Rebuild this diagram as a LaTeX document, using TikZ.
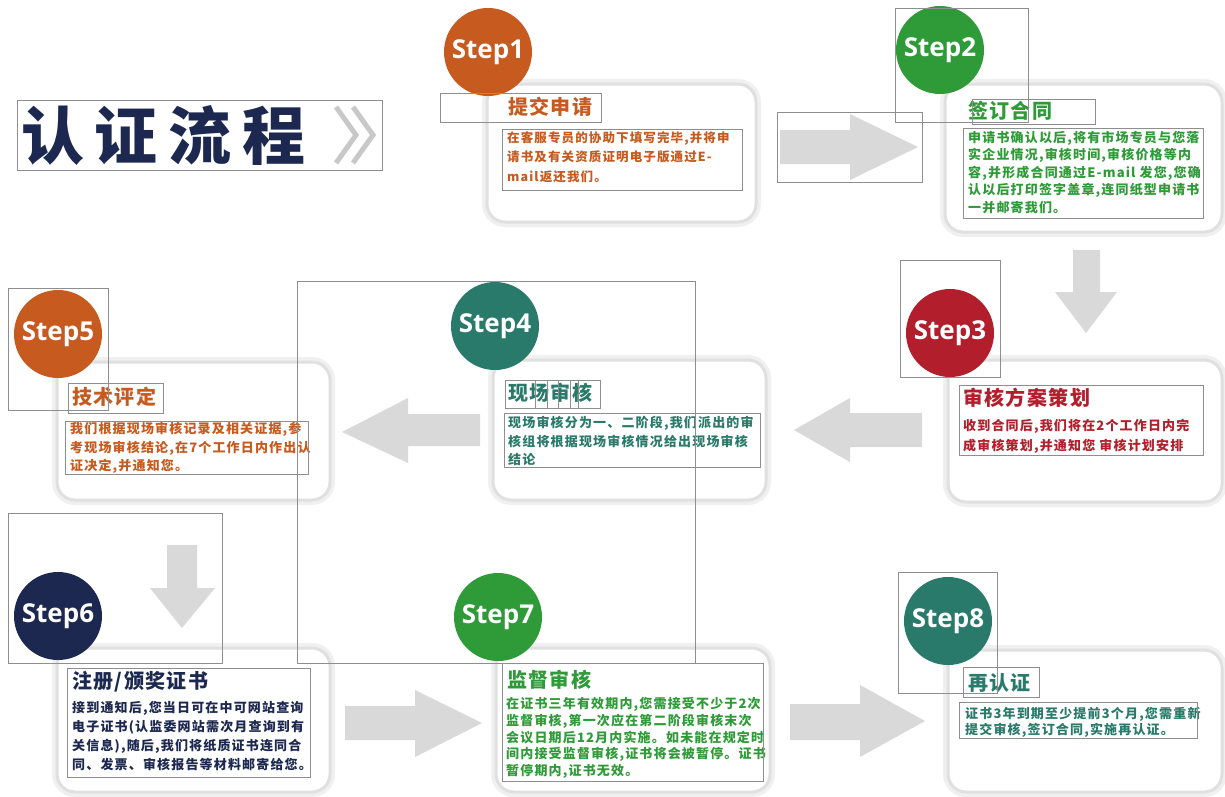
\documentclass[tikz,border=0pt]{standalone}
\usepackage{fontspec}
\setmainfont{Noto Sans CJK SC}
\newfontfamily\bodyf[LetterSpace=9]{Noto Sans CJK SC}
\newfontfamily\titlef[LetterSpace=7]{Noto Sans CJK SC}
\newfontfamily\bigf[LetterSpace=17]{Noto Sans CJK SC}
\newfontfamily\stepfont{Open Sans}
\definecolor{corange}{HTML}{C75A1E}
\definecolor{cgreen}{HTML}{2F9B38}
\definecolor{cred}{HTML}{B21E2C}
\definecolor{cteal}{HTML}{2A7A6B}
\definecolor{cnavy}{HTML}{1C2850}
\definecolor{arrowgray}{HTML}{D9D9D9}
\definecolor{annot}{HTML}{8E8E8E}
\definecolor{chev}{HTML}{C8C8C8}
\tikzset{
  card/.style={fill=white, draw=black!12, line width=3pt, rounded corners=18pt,
    preaction={draw=black!6, line width=10pt}, inner sep=0pt},
  stepcircle/.style={circle, minimum size=88pt, inner sep=0pt, text=white,
    font=\stepfont\bfseries\fontsize{26}{30}\selectfont},
  ttl/.style={anchor=west, inner sep=0pt, font=\titlef\bfseries\fontsize{20}{24}\selectfont},
  body/.style={anchor=north west, inner sep=0pt, align=left},
  annotbox/.style={draw=annot, line width=0.8pt},
  blockarrow/.style={fill=arrowgray},
}
\newcommand{\bodysize}[2]{\bodyf\bfseries\fontsize{#1}{#2}\selectfont}
\begin{document}
\begin{tikzpicture}[x=1pt,y=-1pt]
\useasboundingbox (0,0) rectangle (1225,796);
\fill[white] (0,0) rectangle (1225,796);

% title
\node[anchor=west, inner sep=0pt, text=cnavy, font=\bigf\bfseries\fontsize{63}{70}\selectfont] (title) at (21,135) {认证流程};
\draw[chev, line width=5pt] (336,107) -- (356,135) -- (336,163);
\draw[chev, line width=5pt] (353,107) -- (373,135) -- (353,163);

% cards
\node[card, minimum width=269pt, minimum height=138pt] (c1) at (621.5,153) {};
\node[card, minimum width=277pt, minimum height=148pt] (c2) at (1083.5,158) {};
\node[card, minimum width=274pt, minimum height=142pt] (c3) at (1085,431) {};
\node[card, minimum width=273pt, minimum height=140pt] (c4) at (629.5,430) {};
\node[card, minimum width=273pt, minimum height=138pt] (c5) at (193.5,431) {};
\node[card, minimum width=273pt, minimum height=144pt] (c6) at (193.5,720) {};
\node[card, minimum width=274pt, minimum height=144pt] (c7) at (633,720) {};
\node[card, minimum width=274pt, minimum height=142pt] (c8) at (1085,721) {};

% block arrows
\fill[blockarrow] (780,130) -- (850,130) -- (850,114) -- (918,147) -- (850,180) -- (850,164) -- (780,164) -- cycle;
\fill[blockarrow] (1073,250) -- (1100,250) -- (1100,292) -- (1117,292) -- (1086,333) -- (1055,292) -- (1073,292) -- cycle;
\fill[blockarrow] (922,413) -- (850,413) -- (850,398) -- (794,430) -- (850,462) -- (850,447) -- (922,447) -- cycle;
\fill[blockarrow] (480,414) -- (408,414) -- (408,398) -- (342,432) -- (408,463) -- (408,446) -- (480,446) -- cycle;
\fill[blockarrow] (167,545) -- (197,545) -- (197,588) -- (215,588) -- (182,628) -- (150,588) -- (167,588) -- cycle;
\fill[blockarrow] (345,706) -- (415,706) -- (415,690) -- (482,723) -- (415,757) -- (415,740) -- (345,740) -- cycle;
\fill[blockarrow] (790,704) -- (860,704) -- (860,685) -- (925,721) -- (860,757) -- (860,740) -- (790,740) -- cycle;

% step circles
\node[stepcircle, fill=corange] (s1) at (488,52) {Step1};
\node[stepcircle, fill=cgreen] (s2) at (940,50) {Step2};
\node[stepcircle, fill=cred] (s3) at (950,333) {Step3};
\node[stepcircle, fill=cteal] (s4) at (495,326) {Step4};
\node[stepcircle, fill=corange] (s5) at (58,334) {Step5};
\node[stepcircle, fill=cnavy] (s6) at (58,616) {Step6};
\node[stepcircle, fill=cgreen] (s7) at (498,617) {Step7};
\node[stepcircle, fill=cteal] (s8) at (948,621) {Step8};

% card 1
\node[ttl, text=corange] (t1) at (508,107) {提交申请};
\node[body, text=corange, font=\bodysize{12.5}{19.5}] (b1) at (507,131) {在客服专员的协助下填写完毕,并将申\\请书及有关资质证明电子版通过E-\\mail返还我们。};
% card 2
\node[ttl, text=cgreen] (t2) at (968,111) {签订合同};
\node[body, text=cgreen, font=\bodysize{13}{17.5}] (b2) at (968,131) {申请书确认以后,将有市场专员与您落\\实企业情况,审核时间,审核价格等内\\容,并形成合同通过E-mail 发您,您确\\认以后打印签字盖章,连同纸型申请书\\一并邮寄我们。};
% card 3
\node[ttl, text=cred] (t3) at (963,398) {审核方案策划};
\node[body, text=cred, font=\bodysize{13}{20}] (b3) at (963,419) {收到合同后,我们将在2个工作日内完\\成审核策划,并通知您 审核计划安排};
% card 4
\node[ttl, text=cteal] (t4) at (508,393) {现场审核};
\node[body, text=cteal, font=\bodysize{13}{18.5}] (b4) at (508,416) {现场审核分为一、二阶段,我们派出的审\\核组将根据现场审核情况给出现场审核\\结论};
% card 5
\node[ttl, text=corange] (t5) at (72,397) {技术评定};
\node[body, text=corange, font=\bodysize{13}{18.5}] (b5) at (70,422) {我们根据现场审核记录及相关证据,参\\考现场审核结论,在7个工作日内作出认\\证决定,并通知您。};
% card 6
\node[ttl, text=cnavy] (t6) at (72,682) {注册/颁奖证书};
\node[body, text=cnavy, font=\bodysize{13}{19}] (b6) at (72,701) {接到通知后,您当日可在中可网站查询\\电子证书(认监委网站需次月查询到有\\关信息),随后,我们将纸质证书连同合\\同、发票、审核报告等材料邮寄给您。};
% card 7
\node[ttl, text=cgreen] (t7) at (507,680) {监督审核};
\node[body, text=cgreen, font=\bodysize{13}{16.8}] (b7) at (506,697) {在证书三年有效期内,您需接受不少于2次\\监督审核,第一次应在第二阶段审核末次\\会议日期后12月内实施。如未能在规定时\\间内接受监督审核,证书将会被暂停。证书\\暂停期内,证书无效。};
% card 8
\node[ttl, text=cteal] (t8) at (968,683) {再认证};
\node[body, text=cteal, font=\bodysize{13}{16.5}] (b8) at (965,707) {证书3年到期至少提前3个月,您需重新\\提交审核,签订合同,实施再认证。};

% annotation boxes
\draw[annotbox] (17,100) rectangle (382,170);
\draw[annotbox] (440,93) rectangle (601,122);
\draw[annotbox] (502,129) rectangle (742,190);
\draw[annotbox] (777,112) rectangle (922,182);
\draw[annotbox] (895,8) rectangle (1028,122);
\draw[annotbox] (972,99) rectangle (1095,124);
\draw[annotbox] (963,128) rectangle (1203,218);
\draw[annotbox] (900,260) rectangle (1000,377);
\draw[annotbox] (959,385) rectangle (1203,455);
\draw[annotbox] (297,281) rectangle (695,663);
\draw[annotbox] (505,380) rectangle (600,408);
\foreach \xx in {535,547,558,570,578} \draw[annotbox] (\xx,380) -- (\xx,408);
\draw[annotbox] (504,413) rectangle (760,467);
\draw[annotbox] (8,288) rectangle (108,410);
\draw[annotbox] (68,383) rectangle (163,413);
\draw[annotbox] (65,421) rectangle (308,474);
\draw[annotbox] (8,513) rectangle (222,663);
\draw[annotbox] (67,668) rectangle (310,777);
\draw[annotbox] (502,663) rectangle (763,781);
\draw[annotbox] (898,572) rectangle (997,693);
\draw[annotbox] (963,667) rectangle (1039,697);
\draw[annotbox] (959,702) rectangle (1197,738);
\end{tikzpicture}
\end{document}
